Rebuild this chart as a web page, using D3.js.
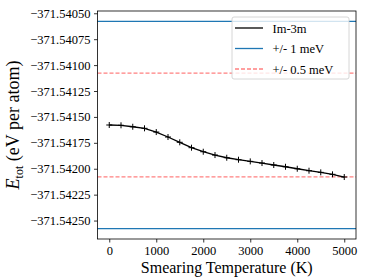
<!DOCTYPE html>
<html><head><meta charset="utf-8">
<script src="https://cdn.jsdelivr.net/npm/d3@7"></script>
<style>body{margin:0;background:#fff}svg{display:block}</style>
</head><body><svg id="c" width="374" height="280" font-family="Liberation Serif"></svg>
<script>
const temps = [0,250,500,750,1000,1250,1500,1750,2000,2250,2500,2750,3000,3250,3500,3750,4000,4250,4500,4750,5000];
const energies = [-371.541578,-371.541581,-371.541595,-371.541610,-371.541646,-371.541694,-371.541745,-371.541797,-371.541836,-371.541868,-371.541894,-371.541913,-371.541929,-371.541945,-371.541964,-371.541981,-371.542000,-371.542019,-371.542035,-371.542054,-371.542080];
const xTicks = [0,1000,2000,3000,4000,5000];
const yTicks = [-371.54050,-371.54075,-371.54100,-371.54125,-371.54150,-371.54175,-371.54200,-371.54225,-371.54250];
const refE = energies[0];
const tol1 = 0.001, tol05 = 0.0005;
const legendLabels = ["Im-3m","+/- 1 meV","+/- 0.5 meV"];

const FF="Liberation Serif";
const L=97.5,R=356,T=11,B=239;
const svg=d3.select("#c");
const x=d3.scaleLinear().domain([-250,5250]).range([L,R]);
const y=d3.scaleLinear().domain([-371.542678,-371.540478]).range([B,T]);

const g=svg.append("g");
const xa=svg.append("g").attr("transform",`translate(0,${B})`)
  .call(d3.axisBottom(x).tickValues(xTicks).tickSize(3.5).tickPadding(3.5).tickFormat(d3.format("d")));
const ya=svg.append("g").attr("transform",`translate(${L},0)`)
  .call(d3.axisLeft(y).tickValues(yTicks).tickSize(3.5).tickPadding(3.5).tickFormat(d=>"\u2212"+Math.abs(d).toFixed(5)));
[xa,ya].forEach(a=>{a.attr("font-family",FF);a.select(".domain").remove();a.selectAll("line").attr("stroke","#000").attr("stroke-width",0.8);
  a.selectAll("text").attr("font-size",12.5).attr("fill","#000").attr("font-family",FF);});

const lines=[{v:refE+tol1,c:"#1f77b4",d:null},{v:refE-tol1,c:"#1f77b4",d:null},
  {v:refE+tol05,c:"#ff8080",d:"4,2"},{v:refE-tol05,c:"#ff8080",d:"4,2"}];
lines.forEach(l=>{g.append("line").attr("x1",L).attr("x2",R).attr("y1",y(l.v)).attr("y2",y(l.v))
  .attr("stroke",l.c).attr("stroke-width",1.3).attr("stroke-dasharray",l.d);});

const pts=temps.map((t,i)=>[t,energies[i]]);
g.append("path").datum(pts).attr("fill","none").attr("stroke","#000").attr("stroke-width",1.3)
  .attr("d",d3.line().x(d=>x(d[0])).y(d=>y(d[1])));
g.selectAll(".m").data(pts).join("path").attr("stroke","#000").attr("stroke-width",1)
  .attr("d",d=>{const cx=x(d[0]),cy=y(d[1]),s=3;return `M${cx-s},${cy}H${cx+s}M${cx},${cy-s}V${cy+s}`;});

svg.append("rect").attr("x",L).attr("y",T).attr("width",R-L).attr("height",B-T).attr("fill","none").attr("stroke","#000").attr("stroke-width",0.8);

const lg=svg.append("g");
lg.append("rect").attr("x",232).attr("y",17).attr("width",117).attr("height",62).attr("rx",2)
  .attr("fill","#fff").attr("fill-opacity",0.8).attr("stroke","#ccc").attr("stroke-width",0.8);
const ls=[{c:"#000",d:null},{c:"#1f77b4",d:null},{c:"#ff8080",d:"4,2"}];
legendLabels.forEach((t,i)=>{const yy=28+i*20.5;
  lg.append("line").attr("x1",235).attr("x2",263).attr("y1",yy).attr("y2",yy).attr("stroke",ls[i].c).attr("stroke-width",1.3).attr("stroke-dasharray",ls[i].d);
  lg.append("text").attr("x",272.5).attr("y",yy+4.5).attr("font-size",12.5).attr("font-family",FF).text(t);});

svg.append("text").attr("x",(L+R)/2).attr("y",273).attr("text-anchor","middle").attr("font-size",16).attr("font-family",FF).text("Smearing Temperature (K)");
const yl=svg.append("text").attr("transform",`translate(19,${(T+B)/2}) rotate(-90)`).attr("text-anchor","middle").attr("font-size",18).attr("font-family",FF);
yl.append("tspan").attr("font-style","italic").text("E");
yl.append("tspan").attr("font-size",12).attr("dy",4).text("tot");
yl.append("tspan").attr("dy",-4).text(" (eV per atom)");
</script></body></html>
